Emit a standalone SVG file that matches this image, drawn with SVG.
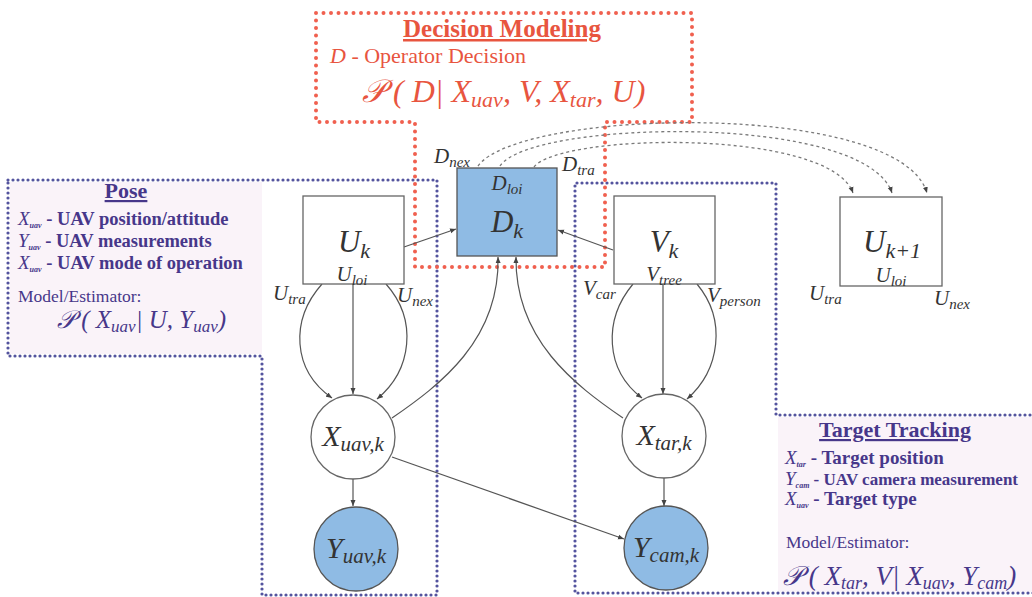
<svg xmlns="http://www.w3.org/2000/svg" width="1032" height="597" viewBox="0 0 1032 597">
<style>
.m{font-family:"Liberation Serif","DejaVu Serif",serif;font-style:italic;fill:#333}
.node{fill:#fff;stroke:#666;stroke-width:1.3}
.obs{fill:#8fbbe4;stroke:#555;stroke-width:1.3}
.edge{fill:none;stroke:#555;stroke-width:1.2;marker-end:url(#ah)}
.dash{fill:none;stroke:#7a7a7a;stroke-width:1.3;stroke-dasharray:3 3;marker-end:url(#ah)}
.red{fill:none;stroke:#f0604f;stroke-width:4;stroke-linecap:round;stroke-dasharray:0 7.5}
.blue{fill:none;stroke:#54549e;stroke-width:3.2;stroke-linecap:round;stroke-dasharray:0 5}
.pt{font-family:"Liberation Serif",serif;fill:#47378a}
.rt{font-family:"Liberation Serif",serif;fill:#e8553f}
</style>
<defs>
<marker id="ah" markerWidth="7" markerHeight="6" refX="6" refY="3" orient="auto" markerUnits="userSpaceOnUse">
<path d="M0,0.5 L6,3 L0,5.5 Z" fill="#444"/>
</marker>
</defs>
<rect width="1032" height="597" fill="#fff"/>
<g id="tint">
<rect x="10" y="182" width="252" height="172" fill="#faf3f9"/>
<rect x="778" y="417" width="254" height="175" fill="#faf3f9"/>
</g>
<g id="pose-group">
<path class="blue" d="M8,180 H437 V595 H262 V356 H8 Z"/>
<text class="pt" x="126" y="198" font-size="22" font-weight="bold" text-anchor="middle" text-decoration="underline">Pose</text>
<text class="pt" x="18" y="225" font-size="18.5" font-weight="bold"><tspan font-style="italic" font-weight="normal" font-size="19">X</tspan><tspan font-size="8" dy="3" font-style="italic">uav</tspan><tspan dy="-3"> - UAV position/attitude</tspan></text>
<text class="pt" x="18" y="247" font-size="18.5" font-weight="bold"><tspan font-style="italic" font-weight="normal" font-size="19">Y</tspan><tspan font-size="8" dy="3" font-style="italic">uav</tspan><tspan dy="-3"> - UAV measurements</tspan></text>
<text class="pt" x="18" y="269" font-size="18.5" font-weight="bold"><tspan font-style="italic" font-weight="normal" font-size="19">X</tspan><tspan font-size="8" dy="3" font-style="italic">uav</tspan><tspan dy="-3"> - UAV mode of operation</tspan></text>
<text class="pt" x="18" y="302" font-size="17.5">Model/Estimator:</text>
<text class="pt" x="57" y="328" font-size="25" font-style="italic">𝒫 ( X<tspan font-size="17" dy="4">uav</tspan><tspan dy="-4">| U, Y</tspan><tspan font-size="17" dy="4">uav</tspan><tspan dy="-4">)</tspan></text>
</g>
<g id="target-group">
<path class="blue" d="M1040,415 H776 V183 H575 V593 H1040"/>
<text class="pt" x="895" y="437" font-size="22" font-weight="bold" text-anchor="middle" text-decoration="underline">Target Tracking</text>
<text class="pt" x="785" y="464" font-size="19" font-weight="bold"><tspan font-style="italic" font-weight="normal" font-size="19">X</tspan><tspan font-size="8" dy="3" font-style="italic">tar</tspan><tspan dy="-3"> - Target position</tspan></text>
<text class="pt" x="785" y="485" font-size="17" font-weight="bold"><tspan font-style="italic" font-weight="normal" font-size="19">Y</tspan><tspan font-size="8" dy="3" font-style="italic">cam</tspan><tspan dy="-3"> - UAV camera measurement</tspan></text>
<text class="pt" x="785" y="505" font-size="19" font-weight="bold"><tspan font-style="italic" font-weight="normal" font-size="19">X</tspan><tspan font-size="8" dy="3" font-style="italic">uav</tspan><tspan dy="-3"> - Target type</tspan></text>
<text class="pt" x="786" y="548" font-size="17.5">Model/Estimator:</text>
<text class="pt" x="783" y="585" font-size="27" font-style="italic">𝒫 ( X<tspan font-size="18" dy="4">tar</tspan><tspan dy="-4">, V| X</tspan><tspan font-size="18" dy="4">uav</tspan><tspan dy="-4">, Y</tspan><tspan font-size="18" dy="4">cam</tspan><tspan dy="-4">)</tspan></text>
</g>
<g id="decision-group">
<path class="red" d="M316,13 H692 V122 H605 V267 H415 V122 H316 Z"/>
<text class="rt" x="502" y="37" font-size="25" font-weight="bold" text-anchor="middle" text-decoration="underline">Decision Modeling</text>
<text class="rt" x="330" y="63" font-size="22"><tspan font-style="italic">D</tspan> - Operator Decision</text>
<text class="rt" x="362" y="102" font-size="32" font-style="italic">𝒫 ( D| X<tspan font-size="22" dy="5">uav</tspan><tspan dy="-5">, V, X</tspan><tspan font-size="22" dy="5">tar</tspan><tspan dy="-5">, U)</tspan></text>
</g>
<g id="connectors">
<path class="edge" d="M404,247 L456,229"/>
<path class="edge" d="M613,250 L558,230"/>
<path class="edge" d="M322,284 C290,320 292,370 332,398"/>
<path class="edge" d="M353,284 V394"/>
<path class="edge" d="M386,284 C418,320 412,370 377,399"/>
<path class="edge" d="M633,284 C603,320 605,370 642,398"/>
<path class="edge" d="M663,284 V394"/>
<path class="edge" d="M697,284 C727,320 720,370 687,399"/>
<path class="edge" d="M392,418 C440,385 500,340 498,257"/>
<path class="edge" d="M623,418 C575,385 515,340 516,257"/>
<path class="edge" d="M353,479 V506"/>
<path class="edge" d="M664,478 V506"/>
<path class="edge" d="M392,457 L624,539"/>
<path class="dash" d="M478,166 C520,108 900,100 927,193"/>
<path class="dash" d="M500,166 C530,120 865,112 892,193"/>
<path class="dash" d="M534,167 C560,133 830,128 853,193"/>
</g>
<g id="node-Uk">
<rect class="node" x="303" y="196" width="101" height="88"/>
<text class="m" x="354" y="252" font-size="31" text-anchor="middle">U<tspan font-size="22" dy="6">k</tspan></text>
<text class="m" x="352" y="281" font-size="21" text-anchor="middle">U<tspan font-size="15" dy="4">loi</tspan></text>
<text class="m" x="273" y="300" font-size="21">U<tspan font-size="15" dy="4">tra</tspan></text>
<text class="m" x="397" y="302" font-size="21">U<tspan font-size="15" dy="4">nex</tspan></text>
</g>
<g id="node-Dk">
<rect class="obs" x="457" y="168" width="100" height="88"/>
<text class="m" x="507" y="190" font-size="21" text-anchor="middle">D<tspan font-size="15" dy="4">loi</tspan></text>
<text class="m" x="507" y="232" font-size="31" text-anchor="middle">D<tspan font-size="22" dy="6">k</tspan></text>
<text class="m" x="434" y="163" font-size="21">D<tspan font-size="15" dy="4">nex</tspan></text>
<text class="m" x="562" y="171" font-size="21">D<tspan font-size="15" dy="4">tra</tspan></text>
</g>
<g id="node-Vk">
<rect class="node" x="614" y="196" width="101" height="88"/>
<text class="m" x="664" y="252" font-size="31" text-anchor="middle">V<tspan font-size="22" dy="6">k</tspan></text>
<text class="m" x="664" y="281" font-size="21" text-anchor="middle">V<tspan font-size="15" dy="4">tree</tspan></text>
<text class="m" x="583" y="295" font-size="21">V<tspan font-size="15" dy="4">car</tspan></text>
<text class="m" x="707" y="302" font-size="21">V<tspan font-size="15" dy="4">person</tspan></text>
</g>
<g id="node-Uk1">
<rect class="node" x="840" y="197" width="102" height="89"/>
<text class="m" x="892" y="252" font-size="31" text-anchor="middle">U<tspan font-size="22" dy="6">k+1</tspan></text>
<text class="m" x="891" y="282" font-size="21" text-anchor="middle">U<tspan font-size="15" dy="4">loi</tspan></text>
<text class="m" x="809" y="300" font-size="21">U<tspan font-size="15" dy="4">tra</tspan></text>
<text class="m" x="934" y="305" font-size="21">U<tspan font-size="15" dy="4">nex</tspan></text>
</g>
<g id="node-Xuav">
<circle class="node" cx="353" cy="437" r="42"/>
<text class="m" x="353" y="446" font-size="30" text-anchor="middle">X<tspan font-size="21" dy="5">uav,k</tspan></text>
</g>
<g id="node-Xtar">
<circle class="node" cx="664" cy="436" r="42"/>
<text class="m" x="664" y="445" font-size="30" text-anchor="middle">X<tspan font-size="21" dy="5">tar,k</tspan></text>
</g>
<g id="node-Yuav">
<circle class="obs" cx="356" cy="549" r="42"/>
<text class="m" x="356" y="558" font-size="30" text-anchor="middle">Y<tspan font-size="21" dy="5">uav,k</tspan></text>
</g>
<g id="node-Ycam">
<circle class="obs" cx="666" cy="548" r="42"/>
<text class="m" x="666" y="557" font-size="30" text-anchor="middle">Y<tspan font-size="21" dy="5">cam,k</tspan></text>
</g>
</svg>
